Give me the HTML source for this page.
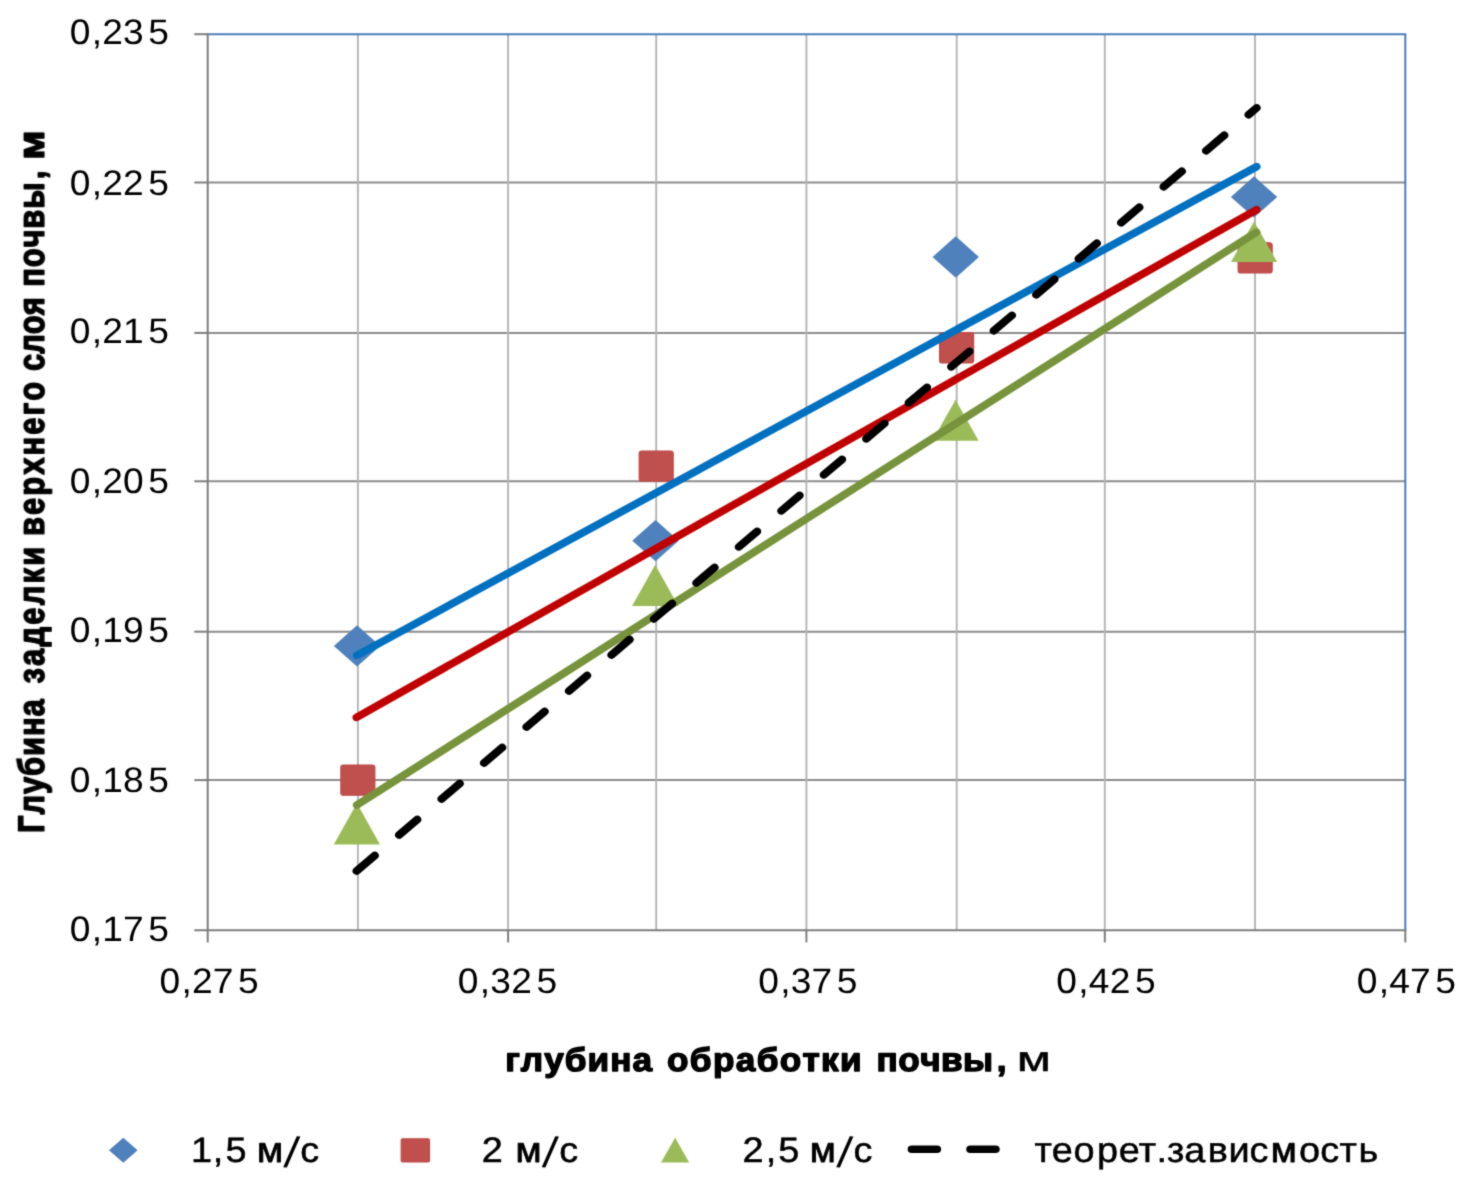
<!DOCTYPE html>
<html lang="ru"><head><meta charset="utf-8"><title>Глубина заделки верхнего слоя почвы</title>
<style>
html,body{margin:0;padding:0;background:#fff;}
body{width:1470px;height:1192px;}
svg{display:block;}
text{font-family:"Liberation Sans",sans-serif;fill:#000;stroke:#000;stroke-width:0.5;stroke-linejoin:round;white-space:pre;text-rendering:geometricPrecision;}
.b{font-weight:bold;stroke:#000;stroke-width:1.4;stroke-linejoin:round;}
.r{font-weight:normal;stroke-width:0.5;}
.t{stroke:none;}
.m{stroke-width:0.85;}
</style></head><body>
<svg width="1470" height="1192" viewBox="0 0 1470 1192" role="img" aria-label="Зависимость глубины заделки верхнего слоя почвы от глубины обработки почвы">
<defs><filter id="soft" x="0" y="0" width="1470" height="1192" filterUnits="userSpaceOnUse" color-interpolation-filters="sRGB"><feConvolveMatrix order="3" kernelMatrix="1 5 1 5 22 5 1 5 1" divisor="46" edgeMode="duplicate" preserveAlpha="false"/></filter></defs>
<rect x="0" y="0" width="1470" height="1192" fill="#fff"/>
<g filter="url(#soft)">
<g stroke="#8c8c8c" stroke-width="2" fill="none">
<line x1="207.7" y1="780.1" x2="1405.3" y2="780.1"/>
<line x1="207.7" y1="631.7" x2="1405.3" y2="631.7"/>
<line x1="207.7" y1="481.3" x2="1405.3" y2="481.3"/>
<line x1="207.7" y1="332.9" x2="1405.3" y2="332.9"/>
<line x1="207.7" y1="182.5" x2="1405.3" y2="182.5"/>
</g>
<g stroke="#b4b4b4" stroke-width="1.9" fill="none">
<line x1="357.9" y1="34.2" x2="357.9" y2="930.2"/>
<line x1="508.1" y1="34.2" x2="508.1" y2="930.2"/>
<line x1="656.2" y1="34.2" x2="656.2" y2="930.2"/>
<line x1="806.4" y1="34.2" x2="806.4" y2="930.2"/>
<line x1="956.7" y1="34.2" x2="956.7" y2="930.2"/>
<line x1="1104.8" y1="34.2" x2="1104.8" y2="930.2"/>
<line x1="1255" y1="34.2" x2="1255" y2="930.2"/>
</g>
<g stroke="#4a7ebb" stroke-width="2" fill="none">
<path d="M207.7 34.2 H1405.3 V930.2"/>
</g>
<g stroke="#7e7e7e" stroke-width="2" fill="none">
<line x1="207.7" y1="33.2" x2="207.7" y2="942.4"/>
<line x1="194.3" y1="930.2" x2="1406.3" y2="930.2"/>
<line x1="194.3" y1="780.1" x2="207.7" y2="780.1"/>
<line x1="194.3" y1="631.7" x2="207.7" y2="631.7"/>
<line x1="194.3" y1="481.3" x2="207.7" y2="481.3"/>
<line x1="194.3" y1="332.9" x2="207.7" y2="332.9"/>
<line x1="194.3" y1="182.5" x2="207.7" y2="182.5"/>
<line x1="194.3" y1="34.2" x2="207.7" y2="34.2"/>
<line x1="508.1" y1="930.2" x2="508.1" y2="942.4"/>
<line x1="806.4" y1="930.2" x2="806.4" y2="942.4"/>
<line x1="1104.8" y1="930.2" x2="1104.8" y2="942.4"/>
<line x1="1405.3" y1="930.2" x2="1405.3" y2="942.4"/>
</g>
<g>
<path d="M357.05 625.2L380.25 645.9L357.05 666.6L333.85 645.9Z" fill="#4f81bd"/>
<path d="M655.5 519.95L678.7 540.65L655.5 561.35L632.3 540.65Z" fill="#4f81bd"/>
<path d="M955.75 236.3L978.95 257L955.75 277.7L932.55 257Z" fill="#4f81bd"/>
<path d="M1254.05 176.2L1277.25 196.9L1254.05 217.6L1230.85 196.9Z" fill="#4f81bd"/>
<rect x="340.85" y="765" width="34" height="30.2" rx="2.5" fill="#c0504d" stroke="#be4b48" stroke-width="1.2"/>
<rect x="639.2" y="451" width="34" height="30.2" rx="2.5" fill="#c0504d" stroke="#be4b48" stroke-width="1.2"/>
<rect x="939.6" y="332.7" width="34" height="30.2" rx="2.5" fill="#c0504d" stroke="#be4b48" stroke-width="1.2"/>
<rect x="1238.15" y="242.75" width="34" height="30.2" rx="2.5" fill="#c0504d" stroke="#be4b48" stroke-width="1.2"/>
<path d="M356.9 803.2L380 844.6L333.8 844.6Z" fill="#9bbb59"/>
<path d="M655.2 564.7L678.3 606L632.1 606Z" fill="#9bbb59"/>
<path d="M955.5 399.7L978.6 440.7L932.4 440.7Z" fill="#9bbb59"/>
<path d="M1254.05 221.6L1277.15 261.9L1230.95 261.9Z" fill="#9bbb59"/>
</g>
<g transform="scale(1.12 1)" fill="none" stroke-width="7.5" stroke-linecap="round">
<line x1="318.66" y1="655.4" x2="1121.88" y2="166.7" stroke="#0070c0"/>
<line x1="318.39" y1="717.4" x2="1121.79" y2="209.8" stroke="#c00000"/>
<line x1="318.66" y1="805" x2="1121.7" y2="232.3" stroke="#77933c"/>
<line x1="318.39" y1="871" x2="1121.96" y2="107.9" stroke="#000" stroke-dasharray="22.4 29.9"/>
<line x1="814.15" y1="1149.2" x2="888.93" y2="1149.2" stroke="#000" stroke-dasharray="22.4 29.9"/>
</g>
<g>
<text transform="translate(0 940.5) scale(1.05 1)" font-size="35.4" x="66.44 87.42 97.35 117.25 141.3" class="t">0,175</text>
<text transform="translate(0 792.1) scale(1.05 1)" font-size="35.4" x="66.44 87.42 97.35 117.25 141.3" class="t">0,185</text>
<text transform="translate(0 642) scale(1.05 1)" font-size="35.4" x="66.44 87.42 97.35 117.25 141.3" class="t">0,195</text>
<text transform="translate(0 493.3) scale(1.05 1)" font-size="35.4" x="66.44 87.42 97.35 117.25 141.3" class="t">0,205</text>
<text transform="translate(0 343.2) scale(1.05 1)" font-size="35.4" x="66.44 87.42 97.35 117.25 141.3" class="t">0,215</text>
<text transform="translate(0 194.6) scale(1.05 1)" font-size="35.4" x="66.44 87.42 97.35 117.25 141.3" class="t">0,225</text>
<text transform="translate(0 44.4) scale(1.05 1)" font-size="35.4" x="66.44 87.42 97.35 117.25 141.3" class="t">0,235</text>
<text transform="translate(0 993.2) scale(1.05 1)" font-size="35.4" x="151.87 172.84 182.78 202.68 226.73" class="t">0,275</text>
<text transform="translate(0 993.2) scale(1.05 1)" font-size="35.4" x="436.06 457.03 466.97 486.87 510.92" class="t">0,325</text>
<text transform="translate(0 993.2) scale(1.05 1)" font-size="35.4" x="722.16 743.13 753.06 772.97 797.01" class="t">0,375</text>
<text transform="translate(0 993.2) scale(1.05 1)" font-size="35.4" x="1006.06 1027.03 1036.97 1056.87 1080.92" class="t">0,425</text>
<text transform="translate(0 993.2) scale(1.05 1)" font-size="35.4" x="1292.16 1313.13 1323.06 1342.97 1367.01" class="t">0,475</text>
</g>
<text class="b" transform="translate(0 1071.2) scale(1.065 1)" font-size="33" x="474.32 489.05 511.01 530.35 551.72 573 593.93 613.27 626.32 647.75 669.4 690.83 710.46 732.11 753.54 770.97 788.76 810.32 823.05 843.4 863.98 883.56 904.26 935.87">глубина обработки почвы,<tspan class="r" font-size="35.4" x="941.81" textLength="44.92" lengthAdjust="spacingAndGlyphs"> м</tspan></text>
<text class="b" transform="translate(43.32 900) rotate(-90) scale(0.93 1.11)" font-size="33" x="72.2 92.01 114.08 133.54 155.03 176.42 197.46 216.92 232.8 251.74 272.62 296.1 316.99 340.48 359.53 382.35 391.57 414.18 434.86 457.35 478.03 500.29 520.97 537.05 559.53 568.93 587.39 608.47 628.75 648.12 659.42 680.45 701.72 721.98 743.37 775.24">Глубина заделки верхнего слоя почвы,<tspan x="784.27" textLength="43.21" lengthAdjust="spacingAndGlyphs"> м</tspan></text>
<g>
<path d="M123.3 1137.8L137.6 1150.3L123.3 1162.8L109 1150.3Z" fill="#4f81bd"/>
<text transform="translate(0 1161.8) scale(1.07 1)" font-size="35.4" x="178.5 198.77 210.8 230.49">1,5 <tspan x="240.21" class="m">м</tspan><tspan x="264.82" class="t" rotate="7" font-size="44" y="5">/</tspan><tspan x="280.68" y="0">с</tspan></text>
<rect x="401.2" y="1138.8" width="28.3" height="23.2" rx="1.5" fill="#c0504d" stroke="#be4b48" stroke-width="1.2"/>
<text transform="translate(0 1161.8) scale(1.07 1)" font-size="35.4" x="450.3 469.98">2 <tspan x="481.89" class="m">м</tspan><tspan x="506.31" class="t" rotate="7" font-size="44" y="5">/</tspan><tspan x="522.64" y="0">с</tspan></text>
<path d="M675.1 1137.8L689.2 1162.6L661 1162.6Z" fill="#9bbb59"/>
<text transform="translate(0 1161.8) scale(1.07 1)" font-size="35.4" x="693.85 715.6 727.43 747.12">2,5 <tspan x="756.89" class="m">м</tspan><tspan x="781.45" class="t" rotate="7" font-size="44" y="5">/</tspan><tspan x="797.69" y="0">с</tspan></text>
<text transform="translate(0 1161.8) scale(1.07 1)" font-size="35.4" x="966.8 982.95 1003.38 1025.23 1045.56 1064.18 1080.83 1090.72 1106.74 1128.83 1148.1 1167.87">теорет.завис<tspan x="1187.64" class="m">м</tspan><tspan x="1213.99 1233.95 1251.94 1269.67" y="0">ость</tspan></text>
</g>
</g>
</svg>
</body></html>
